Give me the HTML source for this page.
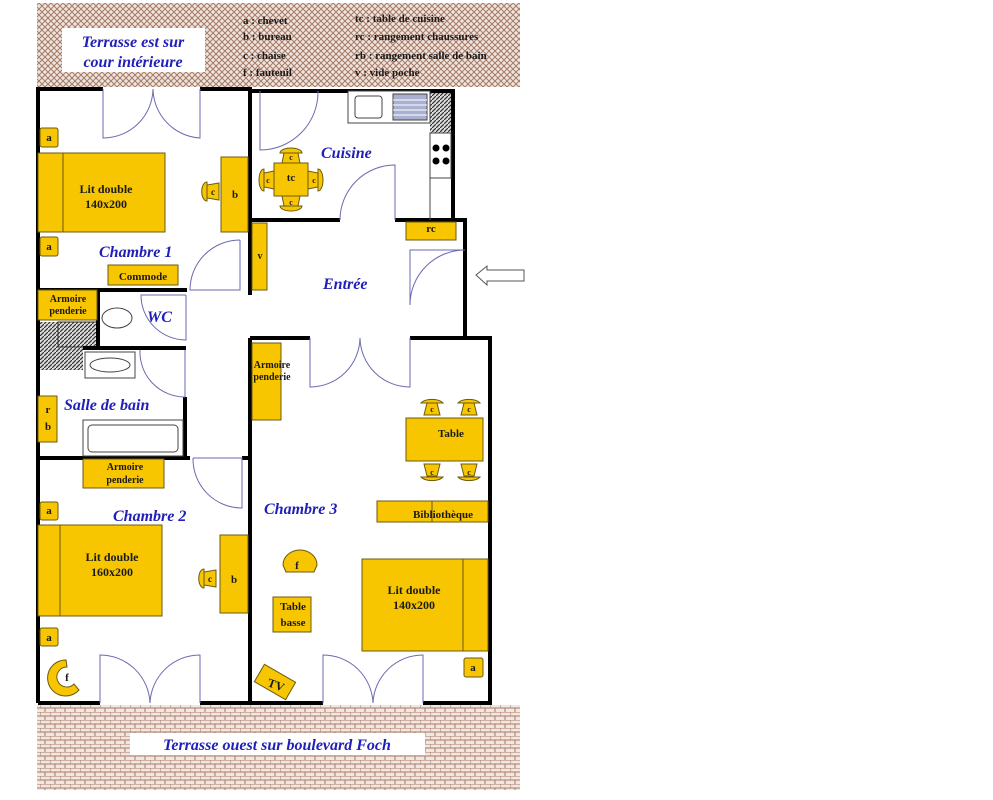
<!DOCTYPE html>
<html><head><meta charset="utf-8"><style>
html,body{margin:0;padding:0;background:#fff;width:993px;height:800px;overflow:hidden}
svg{display:block}
.t{font-family:"Liberation Serif",serif;font-weight:bold;fill:#1a1a1a}
.l{font-family:"Liberation Serif",serif;font-weight:bold;font-style:italic;fill:#2020b8}
.y{fill:#F7C600;stroke:#6b5a10;stroke-width:1}
.d{fill:none;stroke:#6a6ab0;stroke-width:1}
.w{stroke:#000;stroke-width:4;fill:none}
</style></head><body>
<svg width="993" height="800" viewBox="0 0 993 800" xmlns="http://www.w3.org/2000/svg">
<defs>
<pattern id="cross" width="6" height="6" patternUnits="userSpaceOnUse">
<rect width="6" height="6" fill="#efe4de"/><path d="M0 0L6 6M6 0L0 6" stroke="#a57a66" stroke-width="1"/></pattern>
<pattern id="brick" width="10" height="8" patternUnits="userSpaceOnUse">
<rect width="10" height="8" fill="#f1e6e0"/><path d="M0 0H10M0 4H10M0 0V4M5 4V8" stroke="#a57a66" stroke-width="1"/></pattern>
<pattern id="hatch" width="4" height="4" patternUnits="userSpaceOnUse">
<rect width="4" height="4" fill="#ddd"/><path d="M0 4L4 0" stroke="#333" stroke-width="1.2"/></pattern>
</defs>
<rect x="37" y="3" width="483" height="84" fill="url(#cross)"/>
<rect x="62" y="28" width="143" height="44" fill="#fff"/>
<text class="l" x="133" y="47" font-size="16" text-anchor="middle">Terrasse est sur</text>
<text class="l" x="133" y="67" font-size="16" text-anchor="middle">cour intérieure</text>
<g class="t" font-size="11">
<text x="243" y="24">a : chevet</text><text x="243" y="40">b : bureau</text>
<text x="243" y="59">c : chaise</text><text x="243" y="76">f : fauteuil</text>
<text x="355" y="22">tc : table de cuisine</text><text x="355" y="40">rc : rangement chaussures</text>
<text x="355" y="59">rb : rangement salle de bain</text><text x="355" y="76">v : vide poche</text>
</g>
<rect x="37" y="705" width="483" height="85" fill="url(#brick)"/>
<rect x="130" y="733" width="295" height="22" fill="#fff"/>
<text class="l" x="277" y="750" font-size="16" text-anchor="middle">Terrasse ouest sur boulevard Foch</text>

<rect x="430" y="91" width="23" height="42" fill="url(#hatch)"/>
<rect x="38" y="322" width="45" height="48" fill="url(#hatch)"/>
<rect x="58" y="322" width="40" height="25" fill="url(#hatch)" stroke="#333"/>

<g class="w">
<path d="M38 703V89H103M200 89H250V295"/>
<path d="M250 91H453V220"/>
<path d="M250 220H340M395 220H465V338"/>
<path d="M250 338H310M410 338H490V703H423M323 703H250"/>
<path d="M250 703H200M100 703H38"/>
<path d="M38 290H187"/>
<path d="M98 290V347M83 348H186"/>
<path d="M185 397V458M38 458H190M242 458H250"/>
<path d="M250 338V703"/>
</g>
<g class="d">
<path d="M103 89V138A50 50 0 0 0 153 89M200 89V138A50 50 0 0 1 153 89"/>
<path d="M260 91V150A58 58 0 0 0 318 91"/>
<path d="M340 220A55 55 0 0 1 395 165V220"/>
<path d="M465 250A55 55 0 0 0 410 305M465 250H410V305"/>
<path d="M410 338V387A50 50 0 0 1 360 338M310 338V387A50 50 0 0 0 360 338"/>
<path d="M100 703V655A50 50 0 0 1 150 703M200 703V655A50 50 0 0 0 150 703"/>
<path d="M323 703V655A50 50 0 0 1 373 703M423 703V655A50 50 0 0 0 373 703"/>
<path d="M240 240V290H190A50 50 0 0 1 240 240"/>
<path d="M186 295V340A45 45 0 0 1 141 295H186"/>
<path d="M185 350V397A45 45 0 0 1 140 350"/>
<path d="M193 458H242V508A49 49 0 0 1 193 458"/>
</g>
<rect x="348" y="91" width="82" height="32" fill="#fff" stroke="#444"/>
<rect x="355" y="96" width="27" height="22" rx="3" fill="#fff" stroke="#444"/>
<rect x="393" y="94" width="34" height="26" fill="#aab0d0" stroke="#444"/>
<path d="M393 100H427M393 105H427M393 110H427M393 115H427" stroke="#fff"/>
<rect x="430" y="133" width="21" height="45" fill="#fff" stroke="#444"/>
<circle cx="436" cy="148" r="3.5"/><circle cx="446" cy="148" r="3.5"/><circle cx="436" cy="161" r="3.5"/><circle cx="446" cy="161" r="3.5"/>
<path d="M430 178V220" stroke="#444"/>
<ellipse cx="117" cy="318" rx="15" ry="10" fill="#fff" stroke="#444"/>
<rect x="85" y="352" width="50" height="26" fill="#fff" stroke="#444"/>
<ellipse cx="110" cy="365" rx="20" ry="7" fill="#fff" stroke="#444"/>
<rect x="83" y="420" width="100" height="36" fill="#fff" stroke="#444"/>
<rect x="88" y="425" width="90" height="27" rx="4" fill="#fff" stroke="#444"/>

<g class="y">
<rect x="40" y="128" width="18" height="19" rx="2"/><rect x="40" y="237" width="18" height="19" rx="2"/>
<rect x="38" y="153" width="127" height="79"/><rect x="38" y="153" width="25" height="79"/>
<rect x="221" y="157" width="27" height="75"/>
<rect x="108" y="265" width="70" height="20"/>
<rect x="252" y="223" width="15" height="67"/>
<rect x="38" y="290" width="59" height="30"/>
<path d="M282 163l2-10h14l2 10zM280 153a11 5 0 0 1 22 0z"/>
<path d="M282 196l2 10h14l2-10zM280 206a11 5 0 0 0 22 0z"/>
<path d="M274 171l-10 2v14l10 2zM264 169a5 11 0 0 0 0 22z"/>
<path d="M308 171l10 2v14l-10 2zM318 169a5 11 0 0 1 0 22z"/>
<rect x="274" y="163" width="34" height="33"/>
<path d="M219 183l-12 2v13l12 2zM207 182a5 9 0 0 0 0 19z"/>
<rect x="406" y="222" width="50" height="18"/>
<rect x="38" y="396" width="19" height="46"/>
<rect x="83" y="459" width="81" height="29"/>
<rect x="40" y="502" width="18" height="18" rx="2"/><rect x="40" y="628" width="18" height="18" rx="2"/>
<rect x="38" y="525" width="124" height="91"/><rect x="38" y="525" width="22" height="91"/>
<rect x="220" y="535" width="28" height="78"/>
<path d="M216 570l-12 2v13l12 2zM204 569a5 9 0 0 0 0 19z"/>
<path d="M66 660a18 18 0 1 0 13 30l-5-6a10 10 0 1 1-7-17z"/>
<rect x="252" y="343" width="29" height="77"/>
<rect x="406" y="418" width="77" height="43"/>
<path d="M424 415l3-12h10l3 12zM421 403a12 6 0 0 1 22 0z"/>
<path d="M461 415l3-12h10l3 12zM458 403a12 6 0 0 1 22 0z"/>
<path d="M424 464l3 12h10l3-12zM421 477a12 6 0 0 0 22 0z"/>
<path d="M461 464l3 12h10l3-12zM458 477a12 6 0 0 0 22 0z"/>
<rect x="377" y="501" width="111" height="21"/><path d="M432 501V522"/>
<path d="M283 565a17 15 0 0 1 34 0l-3 7h-28z"/>
<rect x="273" y="597" width="38" height="35"/>
<rect x="362" y="559" width="126" height="92"/><rect x="463" y="559" width="25" height="92"/>
<rect x="464" y="658" width="19" height="19" rx="2"/>
<rect x="257" y="672" width="36" height="20" transform="rotate(30 275 682)"/>
</g>
<g class="t" font-size="11" text-anchor="middle">
<text x="49" y="141">a</text><text x="49" y="250">a</text>
<text x="106" y="193" font-size="12">Lit double</text><text x="106" y="208" font-size="12">140x200</text>
<text x="235" y="198">b</text><text x="213" y="195" font-size="9">c</text>
<text x="143" y="280">Commode</text>
<text x="260" y="259" font-size="10">v</text>
<text x="68" y="302" font-size="10">Armoire</text><text x="68" y="314" font-size="10">penderie</text>
<text x="291" y="181">tc</text>
<text x="431" y="232">rc</text>
<text x="48" y="413">r</text><text x="48" y="430">b</text>
<text x="125" y="470" font-size="10">Armoire</text><text x="125" y="483" font-size="10">penderie</text>
<text x="49" y="514">a</text><text x="49" y="641">a</text>
<text x="112" y="561" font-size="12">Lit double</text><text x="112" y="576" font-size="12">160x200</text>
<text x="234" y="583">b</text><text x="210" y="582" font-size="9">c</text>
<text x="67" y="681">f</text>
<text x="272" y="368" font-size="10">Armoire</text><text x="272" y="380" font-size="10">penderie</text>
<text x="451" y="437">Table</text>
<text x="443" y="518">Bibliothèque</text>
<text x="297" y="569">f</text>
<text x="293" y="610">Table</text><text x="293" y="626">basse</text>
<text x="414" y="594" font-size="12">Lit double</text><text x="414" y="609" font-size="12">140x200</text>
<text x="473" y="671">a</text>
<text x="276" y="689" font-size="12" transform="rotate(20 276 685)">TV</text>
<g font-size="8"><text x="291" y="160">c</text><text x="291" y="205">c</text><text x="268" y="183">c</text><text x="314" y="183">c</text>
<text x="432" y="412">c</text><text x="469" y="412">c</text><text x="432" y="475">c</text><text x="469" y="475">c</text></g>
</g>
<g class="l" font-size="16">
<text x="321" y="158">Cuisine</text>
<text x="99" y="257">Chambre 1</text>
<text x="323" y="289">Entrée</text>
<text x="147" y="322">WC</text>
<text x="64" y="410">Salle de bain</text>
<text x="113" y="521">Chambre 2</text>
<text x="264" y="514">Chambre 3</text>
</g>
<path d="M476 275L487 266V270H524V281H487V285Z" fill="#fff" stroke="#555"/>
</svg>
</body></html>
